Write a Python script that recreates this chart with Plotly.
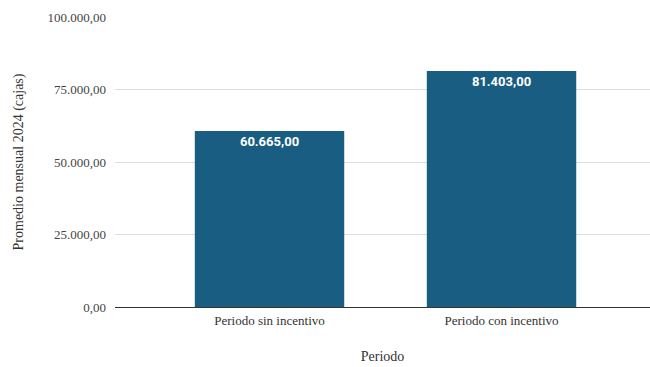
import plotly.graph_objects as go

categories = ["Periodo sin incentivo", "Periodo con incentivo"]
values = [60665.00, 81403.00]
y_ticks = [0, 25000, 50000, 75000, 100000]

serif = "Liberation Serif, Times New Roman, serif"

fig = go.Figure(
    go.Bar(
        x=categories,
        y=values,
        marker=dict(color="#1a5d82", line=dict(width=0)),
        width=0.644,
        texttemplate="%{y:,.2f}",
        textposition="inside",
        insidetextanchor="end",
        textangle=0,
        textfont=dict(family="Roboto, Arial, sans-serif", size=13, color="white", weight="bold"),
        cliponaxis=False,
    )
)

fig.update_layout(
    width=650,
    height=367,
    margin=dict(l=115, r=0, t=17, b=60),
    plot_bgcolor="white",
    paper_bgcolor="white",
    separators=",.",
    showlegend=False,
    font=dict(family=serif, size=13, color="#444444"),
    xaxis=dict(
        range=[-0.666, 1.64],
        showgrid=False,
        showline=False,
        ticks="",
        automargin=False,
        ticklabelstandoff=4,
        tickfont=dict(family=serif, size=13, color="#333333"),
        title=dict(text="Periodo", font=dict(family=serif, size=14, color="#333333"), standoff=24),
    ),
    yaxis=dict(
        range=[0, 100000],
        tickvals=y_ticks,
        tickformat=",.2f",
        showgrid=True,
        gridcolor="#dddddd",
        gridwidth=1,
        zeroline=True,
        zerolinecolor="#333333",
        zerolinewidth=1,
        showline=False,
        ticks="",
        automargin=False,
        ticklabelstandoff=8,
        tickfont=dict(family=serif, size=13, color="#444444"),
        title=dict(text="Promedio mensual 2024 (cajas)", font=dict(family=serif, size=14, color="#333333"), standoff=20),
    ),
)

fig.write_html("out.html")
